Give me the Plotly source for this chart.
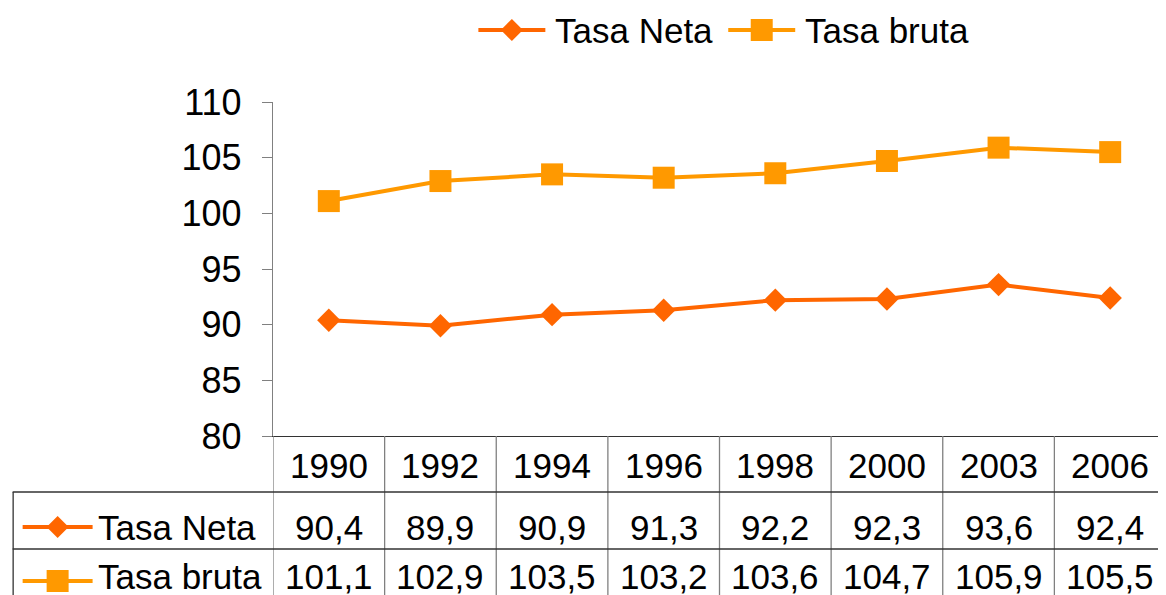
import plotly.graph_objects as go

years = ["1990", "1992", "1994", "1996", "1998", "2000", "2003", "2006"]
series_names = ["Tasa Neta", "Tasa bruta"]
tasa_neta = [90.4, 89.9, 90.9, 91.3, 92.2, 92.3, 93.6, 92.4]
tasa_bruta = [101.1, 102.9, 103.5, 103.2, 103.6, 104.7, 105.9, 105.5]
y_ticks = [80, 85, 90, 95, 100, 105, 110]

# page body has an 8px margin; work in page pixels and convert
OFF = 8
W, H = 1166 - OFF, 595 - OFF
PL, PT, PB = 272.5, 102, 436          # plot area edges in page pixels
L, T = PL - OFF, PT - OFF
B = H - (PB - OFF)
R = 0
PW = W - L - R
PH = H - T - B

C_NETA = "#FF6600"
C_BRUTA = "#FF9900"
FONT = "Liberation Sans, Arial, sans-serif"
FS = 35


def px(X):
    return (X - PL) / PW


def py(Y):
    return (PB - Y) / PH


fig = go.Figure()
fig.add_trace(go.Scatter(
    x=years, y=tasa_neta, mode="lines+markers", name=series_names[0],
    line=dict(color=C_NETA, width=4),
    marker=dict(symbol="diamond", size=18, color=C_NETA),
    showlegend=False,
))
fig.add_trace(go.Scatter(
    x=years, y=tasa_bruta, mode="lines+markers", name=series_names[1],
    line=dict(color=C_BRUTA, width=4),
    marker=dict(symbol="square", size=22, color=C_BRUTA),
    showlegend=False,
))

shapes = []
annotations = []

n = len(years)
for i in range(n + 1):
    shapes.append(dict(type="line", xref="x", yref="paper",
                       x0=i - 0.5, x1=i - 0.5, y0=py(436), y1=py(610),
                       line=dict(color="#808080", width=1.3)))
for Y in (492, 549):
    shapes.append(dict(type="line", xref="paper", yref="paper",
                       x0=px(12), x1=1.02, y0=py(Y), y1=py(Y),
                       line=dict(color="#333333", width=1.3)))
shapes.append(dict(type="line", xref="paper", yref="paper",
                   x0=px(12.5), x1=px(12.5), y0=py(492), y1=py(610),
                   line=dict(color="#333333", width=1.3)))

row_y = [465, 527, 576]
for i, yr in enumerate(years):
    annotations.append(dict(x=i, y=py(row_y[0]), xref="x", yref="paper",
                            text=yr, showarrow=False,
                            xanchor="center", yanchor="middle",
                            font=dict(size=FS, color="black", family=FONT)))
    for vals, ry in ((tasa_neta, row_y[1]), (tasa_bruta, row_y[2])):
        annotations.append(dict(x=i, y=py(ry), xref="x", yref="paper",
                                text=f"{vals[i]:.1f}".replace(".", ","),
                                showarrow=False,
                                xanchor="center", yanchor="middle",
                                font=dict(size=FS, color="black", family=FONT)))


def legend_key(x0, x1, yc, color, symbol):
    shapes.append(dict(type="line", xref="paper", yref="paper",
                       x0=px(x0), x1=px(x1), y0=py(yc), y1=py(yc),
                       line=dict(color=color, width=4)))
    cx = (x0 + x1) / 2
    r = 11
    if symbol == "diamond":
        path = (f"M {px(cx + r)},{py(yc)} L {px(cx)},{py(yc + r)} "
                f"L {px(cx - r)},{py(yc)} L {px(cx)},{py(yc - r)} Z")
        shapes.append(dict(type="path", xref="paper", yref="paper", path=path,
                           fillcolor=color, line=dict(color=color, width=0)))
    else:
        shapes.append(dict(type="rect", xref="paper", yref="paper",
                           x0=px(cx - r), x1=px(cx + r),
                           y0=py(yc + r), y1=py(yc - r),
                           fillcolor=color, line=dict(color=color, width=0)))


def label(X, Y, text):
    annotations.append(dict(x=px(X), y=py(Y), xref="paper", yref="paper",
                            text=text, showarrow=False,
                            xanchor="left", yanchor="middle",
                            font=dict(size=FS, color="black", family=FONT)))


# table row labels
legend_key(22, 92, row_y[1], C_NETA, "diamond")
legend_key(22, 92, 581, C_BRUTA, "square")
label(95, row_y[1], series_names[0])
label(95, row_y[2], series_names[1])

# top legend
legend_key(478, 545, 30, C_NETA, "diamond")
legend_key(728, 795, 30, C_BRUTA, "square")
label(553, 30, series_names[0])
label(803, 30, series_names[1])

fig.update_layout(
    width=W, height=H, autosize=False,
    margin=dict(l=L, r=R, t=T, b=B, pad=0),
    paper_bgcolor="white", plot_bgcolor="white",
    showlegend=False,
    shapes=shapes, annotations=annotations,
    xaxis=dict(type="category", range=[-0.5, n - 0.5], showticklabels=False,
               ticks="", showgrid=False, zeroline=False,
               showline=True, linecolor="#333333", linewidth=1.3),
    yaxis=dict(range=[80, 110], tickvals=y_ticks, ticks="outside", ticklen=10,
               tickcolor="#808080", tickwidth=1.3, showgrid=False, zeroline=False,
               showline=True, linecolor="#808080", linewidth=1.3,
               ticklabelstandoff=13,
               tickfont=dict(size=36, color="black", family=FONT)),
)

fig.write_html("out.html")
